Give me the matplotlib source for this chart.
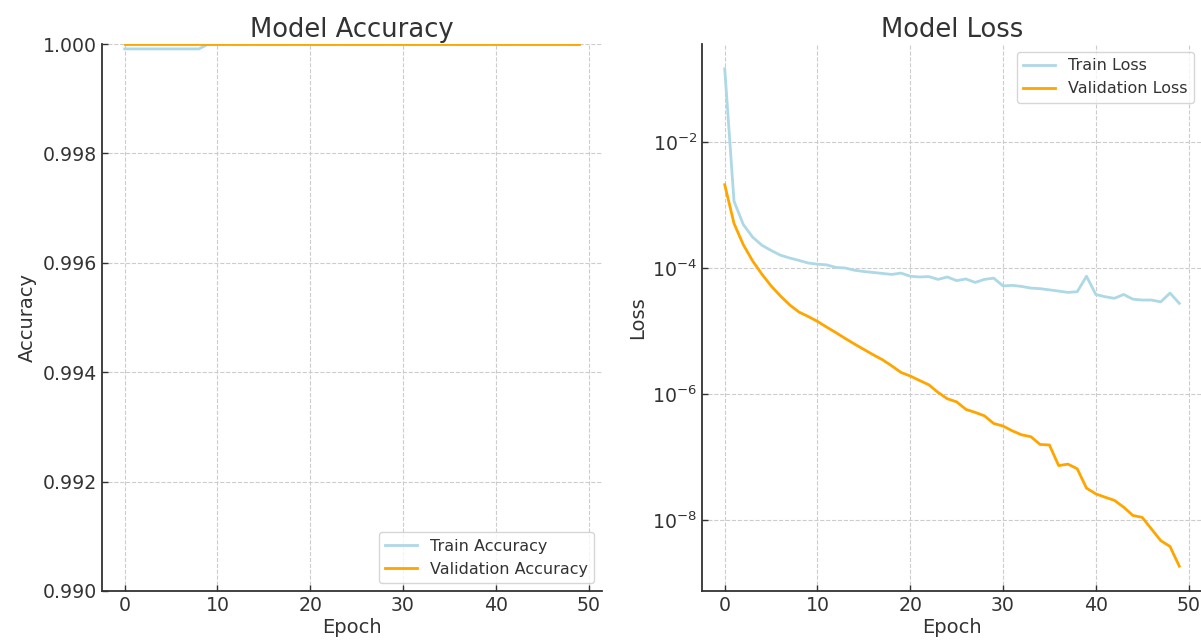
import numpy as np
import matplotlib
matplotlib.use("Agg")
import matplotlib.pyplot as plt
from matplotlib.ticker import FormatStrFormatter, NullLocator

epochs = list(range(50))

train_acc = [0.99991] * 9 + [1.0] * 41
val_acc = [1.0] * 50

train_loss = [0.145, 1.15e-3, 4.9e-4, 3.1e-4, 2.3e-4, 1.9e-4, 1.6e-4, 1.44e-4, 1.32e-4, 1.2e-4,
              1.15e-4, 1.12e-4, 1.02e-4, 1.0e-4, 9.2e-5, 8.8e-5, 8.5e-5, 8.2e-5, 7.9e-5, 8.3e-5,
              7.4e-5, 7.2e-5, 7.3e-5, 6.6e-5, 7.2e-5, 6.3e-5, 6.7e-5, 5.9e-5, 6.6e-5, 6.9e-5,
              5.2e-5, 5.3e-5, 5.1e-5, 4.8e-5, 4.7e-5, 4.5e-5, 4.3e-5, 4.1e-5, 4.2e-5, 7.4e-5,
              3.8e-5, 3.5e-5, 3.3e-5, 3.8e-5, 3.2e-5, 3.1e-5, 3.1e-5, 2.9e-5, 4.0e-5, 2.75e-5]
val_loss = [2.1e-3, 5.1e-4, 2.35e-4, 1.3e-4, 8.0e-5, 5.2e-5, 3.6e-5, 2.6e-5, 2.0e-5, 1.7e-5,
            1.42e-5, 1.15e-5, 9.4e-6, 7.6e-6, 6.2e-6, 5.1e-6, 4.2e-6, 3.5e-6, 2.8e-6, 2.2e-6,
            1.93e-6, 1.64e-6, 1.4e-6, 1.06e-6, 8.4e-7, 7.5e-7, 5.7e-7, 5.1e-7, 4.5e-7, 3.4e-7,
            3.1e-7, 2.6e-7, 2.25e-7, 2.1e-7, 1.58e-7, 1.55e-7, 7.3e-8, 7.7e-8, 6.5e-8, 3.2e-8,
            2.6e-8, 2.3e-8, 2.05e-8, 1.6e-8, 1.18e-8, 1.1e-8, 7.2e-9, 4.7e-9, 3.8e-9, 1.85e-9]

txt = "#333333"
plt.rcParams.update({
    "font.family": "DejaVu Sans",
    "text.color": txt,
    "axes.labelcolor": txt,
    "xtick.color": txt,
    "ytick.color": txt,
    "axes.edgecolor": txt,
})

W, H = 1201, 643
fig = plt.figure(figsize=(W / 100, H / 100), dpi=100)
ax1 = fig.add_axes([102 / W, (H - 591) / H, 500 / W, (591 - 44) / H])
ax2 = fig.add_axes([702 / W, (H - 591) / H, 500 / W, (591 - 44) / H])


def style(ax):
    for s in ["top", "right"]:
        ax.spines[s].set_visible(False)
    for s in ["left", "bottom"]:
        ax.spines[s].set_linewidth(1.3)
    ax.grid(True, linestyle="--", color="#cccccc", linewidth=0.8)
    ax.set_axisbelow(True)
    ax.tick_params(direction="in", labelsize=13.6, length=4, width=1)


ax1.plot(epochs, train_acc, color="lightblue", linewidth=2, label="Train Accuracy")
ax1.plot(epochs, val_acc, color="orange", linewidth=2, label="Validation Accuracy")
ax1.set_ylim(0.990, 1.000)
ax1.set_yticks(np.arange(0.990, 1.0001, 0.002))
ax1.yaxis.set_major_formatter(FormatStrFormatter("%.3f"))
ax1.set_title("Model Accuracy", fontsize=18.6, pad=5)
ax1.set_xlabel("Epoch", fontsize=14, labelpad=2)
ax1.set_ylabel("Accuracy", fontsize=14)
style(ax1)
ax1.legend(loc="lower right", fontsize=11.5, edgecolor="#cccccc")

ax2.plot(epochs, train_loss, color="lightblue", linewidth=2, label="Train Loss")
ax2.plot(epochs, val_loss, color="orange", linewidth=2, label="Validation Loss")
ax2.set_yscale("log")
ax2.set_yticks([1e-2, 1e-4, 1e-6, 1e-8])
ax2.yaxis.set_minor_locator(NullLocator())
ax2.set_title("Model Loss", fontsize=18.6, pad=5)
ax2.set_xlabel("Epoch", fontsize=14, labelpad=2)
ax2.set_ylabel("Loss", fontsize=14)
style(ax2)
ax2.legend(loc="upper right", fontsize=11.5, edgecolor="#cccccc")

for ax in (ax1, ax2):
    ax.set_xticks([0, 10, 20, 30, 40, 50])

fig.savefig("out.png", dpi=100)
